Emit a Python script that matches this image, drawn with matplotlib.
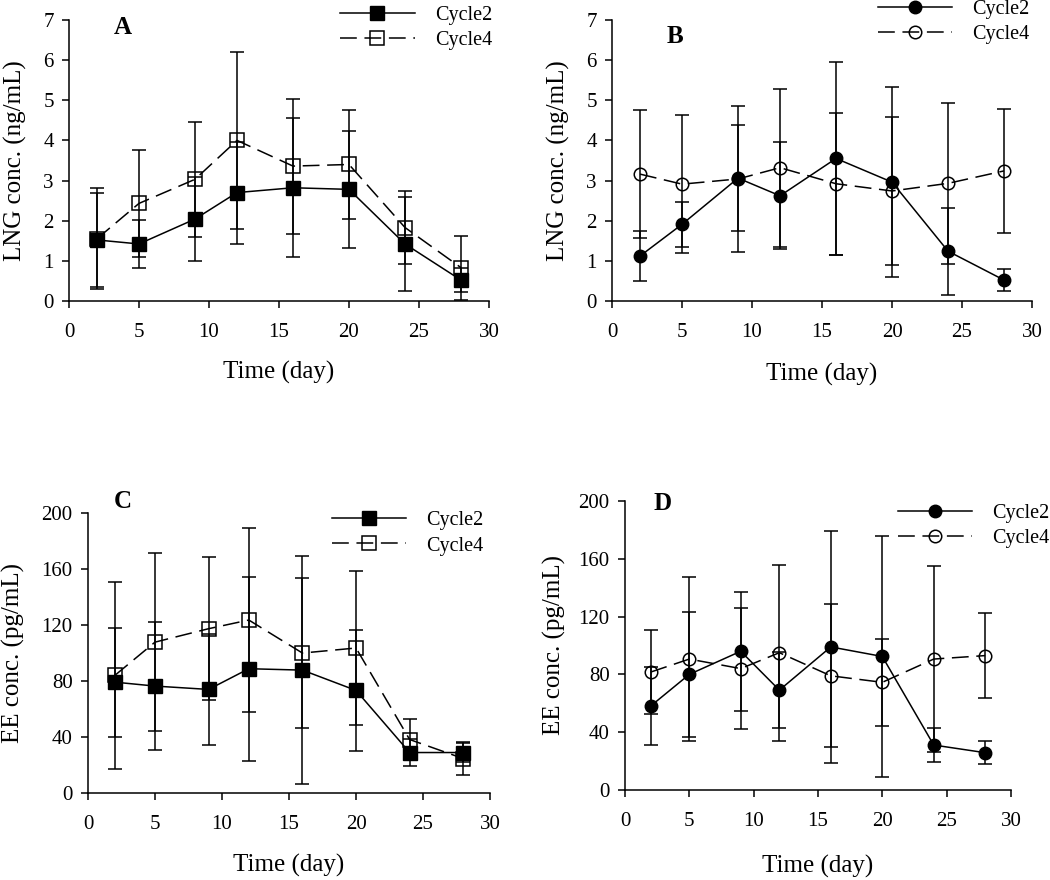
import matplotlib
matplotlib.use("Agg")
import matplotlib.pyplot as plt

plt.rcParams['font.family'] = ['Liberation Serif', 'DejaVu Serif']

days = [2, 5, 9, 12, 16, 20, 24, 28]

# Panel A: LNG, squares
lng_a_c2 = [1.52, 1.42, 2.04, 2.70, 2.82, 2.78, 1.42, 0.52]
lng_a_c2_err = [1.16, 0.60, 1.04, 1.27, 1.73, 1.46, 1.17, 0.30]
lng_a_c4 = [1.55, 2.43, 3.03, 4.00, 3.36, 3.40, 1.83, 0.83]
lng_a_c4_err = [1.26, 1.33, 1.43, 2.20, 1.68, 1.35, 0.90, 0.80]

# Panel B: LNG, circles
lng_b_c2 = [1.12, 1.91, 3.06, 2.62, 3.55, 2.96, 1.24, 0.52]
lng_b_c2_err = [0.63, 0.56, 1.32, 1.33, 2.40, 2.37, 1.08, 0.27]
lng_b_c4 = [3.16, 2.91, 3.04, 3.32, 2.92, 2.74, 2.93, 3.24]
lng_b_c4_err = [1.60, 1.72, 1.81, 1.97, 1.77, 1.85, 2.00, 1.55]

# Panel C: EE, squares
ee_c_c2 = [79.2, 76.4, 74.0, 88.8, 87.8, 73.3, 28.9, 28.9]
ee_c_c2_err = [39.0, 46.0, 39.4, 65.6, 81.4, 43.5, 9.6, 7.1]
ee_c_c4 = [84.0, 107.8, 117.4, 123.6, 100.0, 103.6, 38.2, 24.6]
ee_c_c4_err = [67.0, 63.5, 51.0, 65.7, 53.5, 55.0, 14.5, 11.5]

# Panel D: EE, circles
ee_d_c2 = [58.1, 80.0, 96.0, 69.1, 99.0, 92.4, 31.1, 25.8]
ee_d_c2_err = [27.2, 43.5, 41.0, 26.5, 80.5, 83.5, 12.0, 7.8]
ee_d_c4 = [81.6, 90.6, 84.0, 95.0, 79.0, 74.5, 90.6, 93.0]
ee_d_c4_err = [28.8, 57.0, 42.0, 61.0, 49.4, 30.0, 64.4, 29.2]

fig = plt.figure(figsize=(10.5, 8.8), dpi=100)


def panel(rect, c2, c2e, c4, c4e, marker, ymax, ystep, ylabel, letter,
          letter_xy, leg_xy, ypad, xpad):
    ax = fig.add_axes(rect)
    ms = 9.5 if marker == 's' else 9
    ax.errorbar(days, c4, yerr=c4e, color='black', lw=1.1, elinewidth=1.1,
                capsize=5, capthick=1.1, marker=marker, ms=ms,
                mfc='none', mec='black', mew=1.1,
                linestyle=(0, (11, 5)), label='Cycle4', clip_on=False)
    ax.errorbar(days, c2, yerr=c2e, color='black', lw=1.1, elinewidth=1.1,
                capsize=5, capthick=1.1, marker=marker, ms=ms,
                mfc='black', mec='black', linestyle='-', label='Cycle2',
                clip_on=False)
    ax.set_xlim(0, 30)
    ax.set_ylim(0, ymax)
    ax.set_xticks(range(0, 31, 5))
    ax.set_yticks([ystep * i for i in range(int(ymax / ystep) + 1)])
    for s in ['top', 'right']:
        ax.spines[s].set_visible(False)
    ax.spines['left'].set_linewidth(1.1)
    ax.spines['bottom'].set_linewidth(1.1)
    ax.tick_params(direction='out', length=5, width=1.1, labelsize=15,
                   pad=11)
    ax.tick_params(axis='y', pad=6)
    ax.set_xlabel('Time (day)', fontsize=18, labelpad=xpad)
    ax.set_ylabel(ylabel, fontsize=18, labelpad=ypad)
    ax.text(letter_xy[0], letter_xy[1], letter, transform=fig.transFigure,
            fontsize=18, fontweight='bold', ha='center', va='center')
    h, l = ax.get_legend_handles_labels()
    h = [hh[0] for hh in h]
    ax.legend(h[::-1], l[::-1], loc='upper left',
              bbox_to_anchor=leg_xy, bbox_transform=fig.transFigure,
              frameon=False, fontsize=14.5, handlelength=3.7, numpoints=1,
              labelspacing=0.3, handletextpad=1.0, borderaxespad=0,
              borderpad=0)
    return ax


panel([0.0657, 0.658, 0.40, 0.3193], lng_a_c2, lng_a_c2_err, lng_a_c4,
      lng_a_c4_err, 's', 7, 1, 'LNG conc. (ng/mL)', 'A',
      (0.117, 0.969), (0.324, 0.993), 12, 13.5)
panel([0.5829, 0.658, 0.40, 0.3193], lng_b_c2, lng_b_c2_err, lng_b_c4,
      lng_b_c4_err, 'o', 7, 1, 'LNG conc. (ng/mL)', 'B',
      (0.643, 0.958), (0.836, 1.0), 12, 15)
panel([0.0838, 0.0989, 0.3829, 0.318], ee_c_c2, ee_c_c2_err, ee_c_c4,
      ee_c_c4_err, 's', 200, 40, 'EE conc. (pg/mL)', 'C',
      (0.117, 0.43), (0.316, 0.419), 12, 14)
panel([0.5952, 0.1023, 0.3676, 0.3284], ee_d_c2, ee_d_c2_err, ee_d_c4,
      ee_d_c4_err, 'o', 200, 40, 'EE conc. (pg/mL)', 'D',
      (0.631, 0.428), (0.855, 0.427), 9, 17)

fig.savefig('out.png', dpi=100)
